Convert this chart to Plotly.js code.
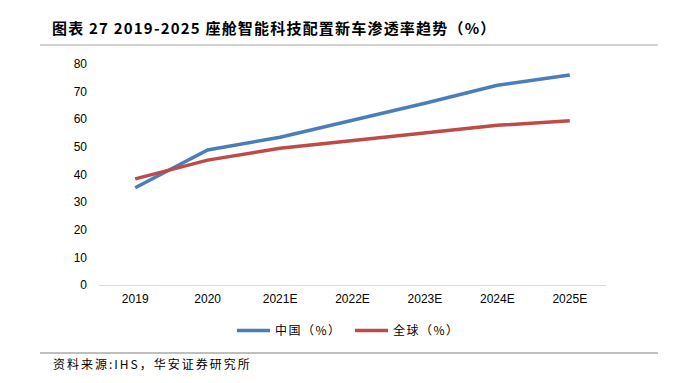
<!DOCTYPE html>
<html><head><meta charset="utf-8">
<script src="https://cdn.plot.ly/plotly-3.0.1.min.js"></script>
<style>
html,body{margin:0;padding:0;background:#fff}
#chart{width:674px;height:383px}
#chart .legendtext{letter-spacing:1.5px}
</style>
</head><body><div id="chart"></div>
<script>
const categories = ["2019","2020","2021E","2022E","2023E","2024E","2025E"];
const chinaValues = [35.2, 48.9, 53.5, 59.5, 65.8, 72.3, 76.0];
const globalValues = [38.4, 45.2, 49.5, 52.3, 55.1, 57.8, 59.5];
const seriesNames = ["中国（%）", "全球（%）"];
const yTicks = [0,10,20,30,40,50,60,70,80];

const traces = [
  {x: categories, y: chinaValues, name: seriesNames[0], type: "scatter", mode: "lines",
   line: {color: "#4a7ebb", width: 3.5}},
  {x: categories, y: globalValues, name: seriesNames[1], type: "scatter", mode: "lines",
   line: {color: "#be4b48", width: 3.5}}
];
const layout = {
  width: 674, height: 383,
  margin: {l: 99, r: 68, t: 64, b: 98},
  paper_bgcolor: "#fff", plot_bgcolor: "#fff",
  font: {family: "Liberation Sans, Arial, sans-serif", size: 12, color: "#000"},
  xaxis: {type: "category", range: [-0.5, 6.5], showline: true, linecolor: "#d9d9d9", linewidth: 1,
          showgrid: false, ticks: "", tickfont: {size: 12}, ticklabelstandoff: 3},
  yaxis: {range: [0, 80], tickvals: yTicks, showgrid: false, zeroline: false, showline: false,
          ticks: "", tickfont: {size: 12}, ticklabelstandoff: 11},
  showlegend: true,
  legend: {orientation: "h", x: (350 - 99) / 507, xanchor: "center", y: -0.14, yanchor: "top",
           font: {family: "Noto Sans CJK SC", size: 12}, itemwidth: 33, traceorder: "normal",
           entrywidth: 70, entrywidthmode: "pixels"},
  annotations: [
    {text: "<b>图表 27 2019-2025 座舱智能科技配置新车渗透率趋势（%）</b>", xref: "paper", yref: "paper",
     x: (50-99)/507, xanchor: "left", align: "left", y: 1 + (64-28)/221, yanchor: "middle", showarrow: false,
     font: {family: "Noto Sans CJK SC", size: 15, color: "#000"}},
    {text: "资料来源:IHS，华安证券研究所", xref: "paper", yref: "paper",
     x: (51-99)/507, xanchor: "left", align: "left", y: -(363-285)/221, yanchor: "middle", showarrow: false,
     font: {family: "Noto Sans CJK SC", size: 12, color: "#000"}}
  ],
  shapes: [
    {type: "line", xref: "paper", yref: "paper", x0: (40-99)/507, x1: (658-99)/507,
     y0: 1 + (64-45)/221, y1: 1 + (64-45)/221, line: {color: "#a6a6a6", width: 1}},
    {type: "line", xref: "paper", yref: "paper", x0: (40-99)/507, x1: (658-99)/507,
     y0: -(353-285)/221, y1: -(353-285)/221, line: {color: "#7f7f7f", width: 1}}
  ]
};
Plotly.newPlot("chart", traces, layout, {displayModeBar: false, staticPlot: true}).then(function (gd) {
  const anns = gd.querySelectorAll(".annotation-text");
  if (anns[0]) anns[0].style.letterSpacing = "1.2px";
  if (anns[1]) anns[1].style.letterSpacing = "2px";
});
</script></body></html>
